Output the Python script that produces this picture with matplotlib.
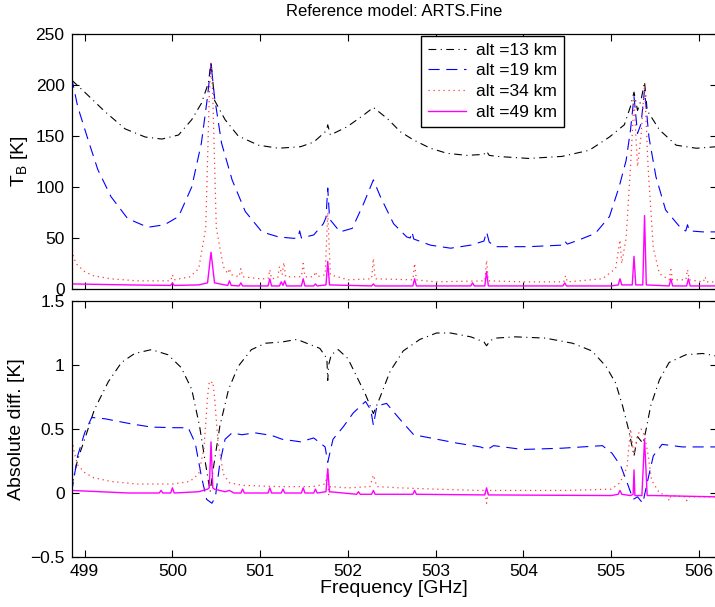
import matplotlib
matplotlib.use("Agg")
import matplotlib.pyplot as plt

plt.rcParams["font.family"] = ["Liberation Sans", "DejaVu Sans"]
plt.rcParams["mathtext.fontset"] = "custom"
plt.rcParams["mathtext.rm"] = "Liberation Sans"

# ---- top panel: brightness temperature [K] ----
f13_top = [498.85, 499.0, 499.23, 499.46, 499.69, 499.88, 500.07, 500.22, 500.33, 500.41,
           500.44, 500.48, 500.60, 500.75, 500.98, 501.21, 501.46, 501.61, 501.74, 501.76,
           501.77, 501.80, 501.99, 502.18, 502.29, 502.45, 502.60, 502.75, 502.94, 503.13,
           503.36, 503.55, 503.58, 503.61, 503.70, 504.06, 504.44, 504.75, 504.98, 505.15,
           505.22, 505.26, 505.30, 505.34, 505.38, 505.41, 505.55, 505.74, 505.97, 506.2]
tb13 = [205, 193, 174, 157, 149, 147, 151, 166, 182, 202,
        223, 185, 166, 150, 141, 138, 139.5, 144, 154, 157,
        161, 151, 159, 170.6, 178, 167, 154, 146, 138, 133,
        131, 132, 135, 131, 130, 128, 130, 136, 149, 161,
        179, 193, 175, 185, 203, 175, 156, 141, 138, 139.5]

f19_top = [498.85, 498.92, 499.04, 499.15, 499.30, 499.49, 499.72, 499.91, 500.07, 500.22,
           500.33, 500.40, 500.44, 500.48, 500.56, 500.68, 500.83, 501.02, 501.21, 501.38,
           501.43, 501.45, 501.47, 501.61, 501.72, 501.75, 501.77, 501.79, 501.80, 501.91,
           502.05, 502.18, 502.29, 502.37, 502.52, 502.67, 502.71, 502.73, 502.75, 502.94,
           503.17, 503.40, 503.55, 503.58, 503.61, 503.68, 504.06, 504.44, 504.47, 504.50,
           504.63, 504.82, 504.98, 505.09, 505.17, 505.22, 505.26, 505.30, 505.34, 505.38,
           505.43, 505.51, 505.62, 505.81, 505.85, 505.87, 505.89, 506.04, 506.2]
tb19 = [208, 179, 146, 117, 90.5, 69, 60.5, 63, 71, 100,
        143, 188.5, 221, 188, 143, 107, 76, 56, 51, 49.7,
        50, 57, 50, 53, 64, 70, 99, 70, 67.6, 56,
        59.5, 84, 107, 90.5, 64, 51, 50, 56, 49, 43,
        40, 43, 47, 56, 46, 41.5, 41.5, 43, 47, 44,
        48, 54.6, 71, 100, 126, 156, 188.5, 152.6, 162, 195,
        149, 110, 77.5, 58, 57, 63, 57, 56, 56]

f34_top = [498.85, 498.9, 499.0, 499.1, 499.3, 499.6, 499.98, 500.0, 500.02, 500.2,
           500.3, 500.38, 500.42, 500.44, 500.46, 500.5, 500.58, 500.63, 500.65, 500.67,
           500.76, 500.78, 500.80, 501.0, 501.09, 501.11, 501.13, 501.20, 501.22, 501.25,
           501.27, 501.29, 501.47, 501.49, 501.51, 501.61, 501.63, 501.65, 501.74, 501.77,
           501.80, 502.0, 502.27, 502.29, 502.31, 502.74, 502.76, 502.78, 503.0, 503.56,
           503.58, 503.60, 504.0, 504.46, 504.48, 504.50, 504.9, 505.05, 505.1, 505.12,
           505.17, 505.22, 505.26, 505.30, 505.34, 505.38, 505.42, 505.48, 505.55, 505.66,
           505.68, 505.70, 505.85, 505.87, 505.89, 506.05, 506.07, 506.09, 506.2]
tb34 = [38, 25, 17, 13, 10, 8, 8, 14, 9, 12,
        20, 60, 190, 222, 190, 60, 22, 15, 20, 14,
        12, 20, 12, 10, 10, 19, 10, 11, 22, 14,
        26, 12, 12, 25, 12, 12, 17, 12, 14, 75,
        14, 9, 10, 30, 10, 9, 25, 9, 7, 8,
        28, 8, 7, 7, 13, 7, 10, 20, 48, 25,
        50, 120, 185, 120, 150, 200, 120, 40, 15, 9,
        19, 9, 9, 19, 9, 7, 12, 7, 7]

f49_top = [498.85, 499.5, 499.98, 500.0, 500.02, 500.3, 500.40, 500.44, 500.48, 500.6,
           500.63, 500.65, 500.67, 500.76, 500.78, 500.80, 501.09, 501.11, 501.13, 501.22,
           501.24, 501.26, 501.28, 501.30, 501.47, 501.49, 501.51, 501.61, 501.63, 501.65,
           501.75, 501.77, 501.79, 502.27, 502.29, 502.31, 502.74, 502.76, 502.78, 503.40,
           503.42, 503.44, 503.56, 503.58, 503.60, 504.45, 504.47, 504.49, 505.0, 505.08,
           505.10, 505.12, 505.24, 505.26, 505.28, 505.36, 505.38, 505.40, 505.66, 505.68,
           505.70, 505.86, 505.88, 505.90, 506.2]
tb49 = [5, 4, 3.5, 6, 3.5, 4, 6, 36, 6, 4,
        3.5, 8, 3.5, 3, 6, 3, 3, 10, 3, 3,
        7, 3.5, 8, 3, 3, 10, 3, 3, 5, 3,
        4, 27, 4, 3, 5, 3, 3, 10, 3, 3,
        6, 3, 3, 17, 3, 3, 6, 3, 3, 4,
        10, 4, 4, 32, 4, 4, 72, 4, 3, 10,
        3, 3, 10, 3, 3]

# ---- bottom panel: absolute difference [K] ----
f13_bot = [498.85, 498.92, 499.0, 499.11, 499.27, 499.42, 499.57, 499.76, 499.95, 500.10,
           500.22, 500.31, 500.37, 500.43, 500.47, 500.54, 500.64, 500.75, 500.90, 501.06,
           501.25, 501.42, 501.53, 501.68, 501.76, 501.77, 501.78, 501.81, 501.89, 502.0,
           502.10, 502.20, 502.29, 502.37, 502.48, 502.63, 502.82, 503.01, 503.17, 503.40,
           503.55, 503.58, 503.62, 503.68, 503.91, 504.25, 504.56, 504.78, 504.94, 505.05,
           505.13, 505.20, 505.26, 505.30, 505.36, 505.39, 505.45, 505.55, 505.66, 505.85,
           506.04, 506.2]
d13 = [0.05, 0.26, 0.42, 0.65, 0.87, 1.02, 1.09, 1.12, 1.08, 0.98,
       0.81, 0.52, 0.26, 0.01, 0.21, 0.52, 0.81, 0.99, 1.12, 1.17,
       1.18, 1.2, 1.17, 1.13, 1.05, 0.88, 1.0, 1.08, 1.12, 1.05,
       0.91, 0.77, 0.62, 0.755, 0.95, 1.11, 1.20, 1.25, 1.25, 1.22,
       1.18, 1.15, 1.19, 1.21, 1.22, 1.21, 1.17, 1.11, 0.99, 0.86,
       0.68, 0.49, 0.29, 0.44, 0.39, 0.47, 0.68, 0.885, 1.02, 1.08,
       1.09, 1.07]

f19_bot = [498.85, 498.92, 499.0, 499.08, 499.23, 499.53, 499.76, 500.03, 500.18, 500.26,
           500.33, 500.39, 500.45, 500.49, 500.54, 500.60, 500.68, 500.79, 500.94, 501.13,
           501.25, 501.46, 501.61, 501.74, 501.77, 501.83, 501.95, 502.06, 502.20, 502.26,
           502.29, 502.33, 502.44, 502.60, 502.75, 502.94, 503.24, 503.51, 503.59, 503.66,
           503.99, 504.44, 504.90, 505.01, 505.11, 505.19, 505.25, 505.30, 505.36, 505.41,
           505.48, 505.58, 505.81, 506.2]
d19 = [0.0, 0.29, 0.47, 0.59, 0.58, 0.54, 0.515, 0.51, 0.51, 0.39,
       0.13, -0.05, -0.08, -0.03, 0.23, 0.42, 0.47, 0.455, 0.47, 0.45,
       0.42, 0.40, 0.43, 0.36, 0.24, 0.42, 0.52, 0.625, 0.715, 0.65,
       0.53, 0.68, 0.70, 0.57, 0.455, 0.43, 0.39, 0.36, 0.34, 0.37,
       0.34, 0.35, 0.37, 0.31, 0.21, 0.065, -0.05, -0.03, -0.08, 0.08,
       0.29, 0.38, 0.36, 0.36]

f34_bot = [498.85, 498.88, 498.92, 499.0, 499.1, 499.3, 499.6, 500.0, 500.2, 500.3,
           500.36, 500.40, 500.42, 500.44, 500.46, 500.48, 500.52, 500.58, 500.65, 500.8,
           501.2, 501.6, 501.74, 501.76, 501.77, 501.78, 501.80, 502.0, 502.25, 502.29,
           502.33, 502.6, 503.0, 503.5, 503.56, 503.58, 503.60, 504.0, 504.5, 505.0,
           505.1, 505.18, 505.22, 505.26, 505.30, 505.34, 505.38, 505.42, 505.46, 505.55,
           505.64, 505.66, 505.68, 505.84, 505.86, 505.88, 506.2]
d34 = [0.45, 0.32, 0.22, 0.16, 0.12, 0.09, 0.07, 0.07, 0.09, 0.15,
       0.35, 0.75, 0.87, 0.86, 0.87, 0.75, 0.4, 0.15, 0.08, 0.06,
       0.05, 0.05, 0.07, 0.13, 0.18, -0.02, 0.05, 0.04, 0.05, 0.14,
       0.05, 0.04, 0.03, 0.02, 0.02, -0.08, 0.02, 0.02, 0.02, 0.03,
       0.08, 0.2, 0.5, 0.3, 0.45, 0.5, 0.45, 0.3, 0.1, 0.0,
       -0.02, -0.06, -0.02, -0.03, -0.06, -0.03, -0.03]

f49_bot = [498.85, 499.5, 499.85, 499.87, 499.89, 499.98, 500.0, 500.02, 500.3, 500.40,
           500.42, 500.44, 500.46, 500.48, 500.6, 500.65, 500.7, 500.78, 500.8, 500.82,
           501.09, 501.11, 501.13, 501.24, 501.26, 501.28, 501.47, 501.49, 501.51, 501.61,
           501.63, 501.65, 501.75, 501.77, 501.79, 502.1, 502.12, 502.14, 502.27, 502.29,
           502.31, 502.74, 502.76, 502.78, 503.56, 503.58, 503.60, 505.0, 505.08, 505.10,
           505.12, 505.22, 505.25, 505.26, 505.27, 505.30, 505.35, 505.38, 505.41, 505.5,
           506.2]
d49 = [0.02, 0.0, 0.0, 0.02, 0.0, 0.0, 0.04, 0.0, 0.01, 0.03,
       0.04, 0.4, 0.04, 0.03, 0.01, 0.02, 0.0, 0.0, 0.03, 0.0,
       0.0, 0.04, 0.0, 0.0, 0.03, 0.0, 0.0, 0.04, 0.0, 0.0,
       0.03, 0.0, 0.01, 0.19, 0.01, -0.01, 0.01, -0.01, -0.01, 0.02,
       -0.01, -0.01, 0.02, -0.01, -0.015, 0.04, -0.015, -0.02, -0.01, 0.02,
       -0.01, -0.02, -0.01, 0.18, -0.02, -0.02, -0.02, 0.42, -0.02, -0.02,
       -0.03]

labels = ["alt =13 km", "alt =19 km", "alt =34 km", "alt =49 km"]
xticks = [499, 500, 501, 502, 503, 504, 505, 506]

styles = [dict(color="black", ls=(0, (7, 4, 1, 4)), lw=0.8),
          dict(color="blue", ls=(0, (10, 6)), lw=0.8),
          dict(color="#ff3a3a", ls=(0, (1, 3)), lw=0.9),
          dict(color="#ff00ff", ls="-", lw=1.0)]

fig = plt.figure(figsize=(7.15, 6.07), dpi=100)
W = 645 / 715
ax1 = fig.add_axes([71.5 / 715, 1 - 289 / 607, W, 255 / 607])
ax2 = fig.add_axes([71.5 / 715, 1 - 557 / 607, W, 256 / 607])

top = [(f13_top, tb13), (f19_top, tb19), (f34_top, tb34), (f49_top, tb49)]
bot = [(f13_bot, d13), (f19_bot, d19), (f34_bot, d34), (f49_bot, d49)]
for (x, y), st, lab in zip(top, styles, labels):
    ax1.plot(x, y, label=lab, **st)
for (x, y), st in zip(bot, styles):
    ax2.plot(x, y, **st)

for ax in (ax1, ax2):
    ax.set_xlim(498.85, 506.2)
    ax.set_xticks(xticks)
    ax.tick_params(direction="in", top=True, right=True, length=5, labelsize=12.5,
                   width=0.8, pad=5)
    for s in ax.spines.values():
        s.set_linewidth(0.9)

ax1.set_ylim(0, 250)
ax1.set_yticks([0, 50, 100, 150, 200, 250])
ax1.set_xticklabels([])
ax1.set_ylabel(r"T$_\mathregular{B}$ [K]", fontsize=14, labelpad=4)
ax1.set_title("Reference model: ARTS.Fine", fontsize=12, pad=13)

ax2.set_ylim(-0.5, 1.5)
ax2.set_yticks([-0.5, 0, 0.5, 1, 1.5])
ax2.set_yticklabels(["\u22120.5", "0", "0.5", "1", "1.5"])
ax2.set_xticklabels([str(t) for t in xticks])
ax2.set_ylabel("Absolute diff. [K]", fontsize=14, labelpad=4)
ax2.set_xlabel("Frequency [GHz]", fontsize=14, labelpad=1)

leg = ax1.legend(loc="upper left", bbox_to_anchor=(0.542, 0.992), borderaxespad=0,
                 fontsize=12.5, handlelength=2.2, handletextpad=0.6, labelspacing=0.32,
                 borderpad=0.38, fancybox=False, edgecolor="black", framealpha=1)
leg.get_frame().set_linewidth(1.0)

fig.savefig("out.png", dpi=100)
